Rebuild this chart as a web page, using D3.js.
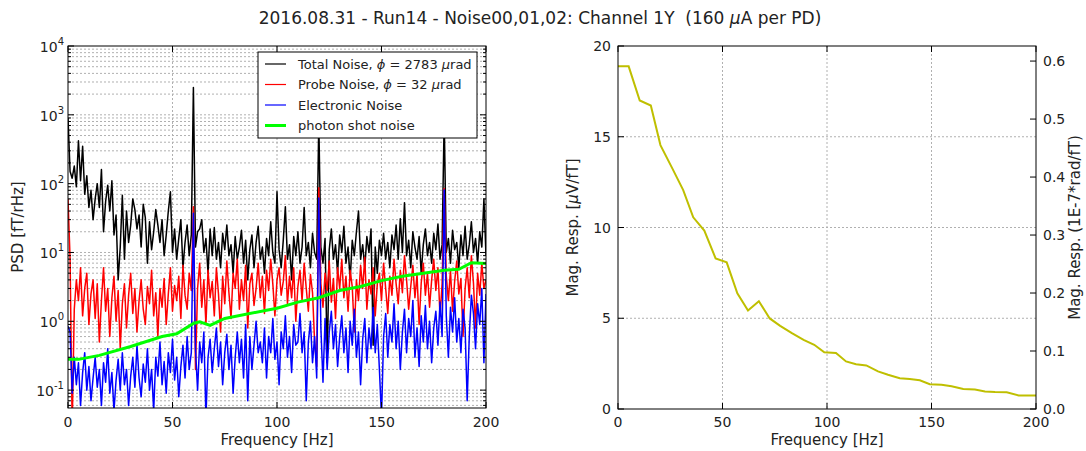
<!DOCTYPE html>
<meta charset='utf-8'>
<title>Noise PSD and magnitude response</title>
<style>
html, body {
  margin: 0;
  padding: 0;
  background: #fff;
}
text {
  font-family: 'DejaVu Sans', sans-serif;
  fill: #222;
  white-space: pre;
}
.it { font-style: italic; }
</style>
<script src='https://d3js.org/d3.v7.min.js'></script>
<body>
<svg id='chart' width='1086' height='451'></svg>
<script>
// Noise spectra, 1 Hz bins (fT/rHz)
var noiseFreq = d3.range(0, 201);
var totalNoise = [
  900, 150, 120, 180, 90, 420, 110, 350, 70, 130,
  45, 80, 30, 60, 100, 45, 160, 20, 55, 95,
  40, 110, 18, 35, 4, 12, 68, 8, 40, 14,
  25, 60, 42, 22, 35, 12, 50, 32, 7, 28,
  11, 20, 42, 25, 14, 30, 9, 18, 40, 76,
  10, 22, 8, 16, 30, 6, 14, 25, 9, 18,
  2500, 12, 20, 22, 30, 10, 16, 5, 22, 9,
  23, 8, 14, 6, 19, 11, 25, 9, 13, 5,
  17, 8, 12, 21, 7, 15, 4, 11, 18, 6,
  14, 24, 8, 12, 5, 16, 9, 28, 10, 7,
  76, 11, 6, 15, 46, 8, 13, 4, 17, 9,
  20, 7, 12, 45, 9, 14, 6, 19, 10, 8,
  800, 12, 7, 16, 0.25, 11, 22, 8, 13, 5,
  18, 10, 24, 7, 12, 4, 15, 9, 20, 40,
  8, 13, 6, 17, 10, 22, 0.45, 12, 5, 15,
  9, 19, 8, 14, 6, 18, 11, 25, 8, 31,
  10, 53, 9, 15, 6, 20, 12, 8, 17, 5,
  13, 22, 9, 14, 7, 19, 11, 26, 8, 13,
  900, 10, 16, 7, 21, 11, 14, 6, 18, 9,
  24, 8, 13, 28, 10, 16, 7, 20, 12, 60,
  9
];
var probeNoise = [
  60, 8, 0.03, 1.5, 4, 2, 6, 1.2, 3, 5,
  0.9, 2.5, 4, 1.1, 3.5, 0.5, 2, 6, 1.4, 3,
  0.6, 2.2, 4.5, 1, 2.8, 0.4, 1.8, 3.5, 0.8, 2.4,
  5, 1.3, 3, 0.7, 2, 4, 1.5, 0.9, 3.2, 1.8,
  5.5, 1.2, 2.6, 0.6, 3, 1.6, 4.2, 0.9, 2.5, 6,
  1.4, 3.3, 2, 4.5, 1.1, 6.5, 2.4, 1.5, 5, 2.8,
  46, 0.2, 3, 7, 1.6, 4, 0.9, 5.5, 2.2, 3.8,
  1.2, 6, 2.5, 0.7, 4.5, 1.8, 7.5, 2.6, 1.1, 5,
  3, 8, 1.5, 4, 2, 6.5, 0.8, 3.5, 5, 1.7,
  3, 7, 2.2, 4.5, 1.3, 5.5, 2.8, 8, 3.5, 1.2,
  4, 6, 2.4, 3.8, 9, 1.8, 4.5, 2.2, 6, 1,
  3.2, 5.5, 2, 7, 3, 1.4, 4.8, 2.6, 0.5, 0.22,
  87, 3.5, 1.6, 5, 2.8, 7.5, 1.9, 4.2, 1.1, 6,
  3, 8, 2.2, 4.5, 1.4, 5.5, 3.2, 0.7, 4, 2,
  6.5, 3, 8.5, 1.5, 4, 2.5, 6, 1.2, 3.5, 5,
  2, 7, 3, 1.3, 4.5, 2.4, 8, 3.5, 1.8, 5.5,
  2.6, 9, 4, 1.5, 3.2, 6.5, 2.2, 4.8, 0.9, 3.6,
  7, 2.4, 5, 1.6, 4, 8, 2.8, 6, 1.2, 3.5,
  85, 4.5, 2, 5.5, 1.4, 3.8, 7.5, 2.5, 4.2, 0.6,
  3, 6, 2.2, 9, 3.6, 0.8, 5, 2.4, 7, 3,
  4
];
var electronicNoise = [
  0.85, 0.7, 0.09, 0.3, 0.12, 0.25, 0.06, 0.18, 0.35, 0.1,
  0.22, 0.07, 0.15, 0.3, 0.11, 0.2, 0.06, 0.25, 0.13, 0.4,
  0.09, 0.18, 0.05, 0.14, 0.28, 0.1, 0.35, 0.12, 0.2, 0.06,
  0.16, 0.3, 0.11, 0.45, 0.15, 0.08, 0.24, 0.13, 0.4, 0.1,
  0.2, 0.05, 0.3, 0.16, 0.5, 0.12, 0.26, 0.09, 0.35, 0.18,
  0.55, 0.14, 0.3, 0.08, 0.22, 0.45, 0.15, 0.6, 0.2, 0.35,
  37, 0.4, 0.1, 0.5, 0.25, 0.7, 0.04, 0.3, 0.55, 0.18,
  0.4, 0.8, 0.22, 0.5, 0.12, 0.35, 0.65, 0.2, 0.45, 0.09,
  0.3, 0.7, 0.25, 0.55, 0.15, 0.9, 0.07, 0.6, 0.2, 0.45,
  1, 0.35, 0.5, 0.25, 0.8, 0.15, 0.6, 0.35, 1.1, 0.28,
  0.5, 0.12, 0.7, 0.4, 1.2, 0.3, 0.6, 0.18, 0.9, 0.45,
  0.5, 1.3, 0.35, 0.7, 0.07, 0.5, 1, 0.25, 0.6, 0.15,
  62, 0.8, 0.13, 1.1, 0.2, 0.7, 1.4, 0.4, 0.9, 0.22,
  0.6, 1.2, 0.35, 0.8, 0.18, 1, 0.45, 1.5, 0.3, 0.7,
  0.12, 0.55, 1.1, 0.25, 0.8, 0.4, 1.6, 0.35, 0.9, 0.2,
  0.04, 0.6, 1.3, 0.3, 0.9, 0.5, 1.8, 0.4, 1, 0.2,
  0.7, 1.5, 0.35, 1.1, 0.6, 2, 0.3, 0.8, 0.22, 1.2,
  0.5, 1.7, 0.4, 1, 0.25, 0.8, 1.4, 0.45, 1.9, 0.6,
  81, 1.2, 0.3, 1.6, 0.7, 2.2, 0.5, 1.1, 0.35, 1.5,
  0.8, 0.07, 0.6, 2.4, 1.3, 0.4, 1.8, 0.9, 3, 0.25,
  2.5
];
// photon shot noise estimate
var shotFreq = [0, 5, 15, 30, 45, 52, 60, 63, 68, 75, 95, 100, 110, 120, 130, 140, 150, 160, 170, 180, 187, 193, 200];
var shotVals = [0.28, 0.28, 0.32, 0.43, 0.6, 0.66, 0.93, 0.98, 0.87, 1.1, 1.45, 1.55, 1.9, 2.2, 2.8, 3.2, 3.9, 4.5, 5.0, 5.5, 5.7, 7.1, 6.9];

// magnitude response (uV/fT)
var respFreq = [0, 5.1, 10.4, 15.7, 20.3, 25.8, 31.2, 36, 41.3, 46.7, 52, 57.1, 62.2, 67.4, 72.6, 77.6, 83.2, 88.8, 93.9, 98.7,
  104.3, 109.1, 113.9, 118.8, 124.4, 129.2, 134.8, 139.6, 144.4, 149.2, 154.8, 159.6, 165.2, 170.8, 175.6, 180.4, 186, 191.7, 200];
var respVals = [18.88, 18.88, 17.0, 16.72, 14.54, 13.3, 12.06, 10.56, 9.83, 8.3, 8.08, 6.38, 5.43, 5.94, 4.99, 4.58, 4.18, 3.81, 3.54, 3.12,
  3.08, 2.62, 2.47, 2.40, 2.07, 1.89, 1.70, 1.65, 1.58, 1.37, 1.34, 1.25, 1.10, 1.08, 0.97, 0.93, 0.92, 0.75, 0.75];

var freqTicks = [0, 50, 100, 150, 200];
var psdTicks = [0.1, 1, 10, 100, 1000, 10000];
var respTicks = [0, 5, 10, 15, 20];
var radTicks = [0.0, 0.1, 0.2, 0.3, 0.4, 0.5, 0.6];

// legend labels split in pieces so the math symbols can go italic
var legendItems = [
  {parts: [['Total Noise, ', 0], ['\u03d5', 1], [' = 2783 ', 0], ['\u03bc', 1], ['rad', 0]], color: '#000', width: 1.2},
  {parts: [['Probe Noise, ', 0], ['\u03d5', 1], [' = 32 ', 0], ['\u03bc', 1], ['rad', 0]], color: '#f00', width: 1.2},
  {parts: [['Electronic Noise', 0]], color: '#00f', width: 1.2},
  {parts: [['photon shot noise', 0]], color: '#0f0', width: 3}
];

var svg = d3.select('#chart');
var gridColor = '#b0b0b0';
var tickFont = 14;
var labelFont = 15;

// Title
var title = svg.append('text')
  .attr('x', 540)
  .attr('y', 24)
  .attr('text-anchor', 'middle')
  .attr('font-size', 17);
title.append('tspan').text('2016.08.31 - Run14 - Noise00,01,02: Channel 1Y  (160 ');
title.append('tspan').attr('class', 'it').text('\u03bc');
title.append('tspan').text('A per PD)');

// ---------- left panel ----------
var L = {x0: 68, x1: 486, y0: 46, y1: 408};
var xL = d3.scaleLinear().domain([0, 200]).range([L.x0, L.x1]);
var yL = d3.scaleLog().domain([0.055, 10000]).range([L.y1, L.y0]);

var left = svg.append('g');

svg.append('clipPath').attr('id', 'clipL')
  .append('rect')
  .attr('x', L.x0).attr('y', L.y0)
  .attr('width', L.x1 - L.x0).attr('height', L.y1 - L.y0);

// minor + major grid on the log axis
var minorVals = [];
[-2, -1, 0, 1, 2, 3].forEach(function (e) {
  for (var k = 1; k < 10; k++) {
    var v = k * Math.pow(10, e);
    if (v > 0.055 && v < 10000) minorVals.push(v);
  }
});
left.selectAll('.hgrid')
  .data(minorVals)
  .enter().append('line')
  .attr('x1', L.x0).attr('x2', L.x1)
  .attr('y1', function (d) { return yL(d); })
  .attr('y2', function (d) { return yL(d); })
  .attr('stroke', gridColor)
  .attr('stroke-width', 1)
  .attr('stroke-dasharray', '2,2');
left.selectAll('.vgrid')
  .data(freqTicks.slice(1, -1))
  .enter().append('line')
  .attr('x1', function (d) { return xL(d); })
  .attr('x2', function (d) { return xL(d); })
  .attr('y1', L.y0).attr('y2', L.y1)
  .attr('stroke', gridColor)
  .attr('stroke-dasharray', '2,2');

var lineL = d3.line()
  .x(function (d) { return xL(d[0]); })
  .y(function (d) { return yL(Math.max(d[1], 0.01)); });

var traces = left.append('g').attr('clip-path', 'url(#clipL)');
[[totalNoise, '#000'], [probeNoise, '#f00'], [electronicNoise, '#00f']].forEach(function (s) {
  traces.append('path')
    .datum(noiseFreq.map(function (f, i) { return [f, s[0][i]]; }))
    .attr('d', lineL)
    .attr('fill', 'none')
    .attr('stroke', s[1])
    .attr('stroke-width', 1.5)
    .attr('stroke-linejoin', 'round');
});
traces.append('path')
  .datum(shotFreq.map(function (f, i) { return [f, shotVals[i]]; }))
  .attr('d', lineL)
  .attr('fill', 'none')
  .attr('stroke', '#0f0')
  .attr('stroke-width', 3);

// frame
left.append('rect')
  .attr('x', L.x0).attr('y', L.y0)
  .attr('width', L.x1 - L.x0).attr('height', L.y1 - L.y0)
  .attr('fill', 'none').attr('stroke', '#000').attr('stroke-width', 1);

// ticks, pointing inward on all sides
function vTick(g, x, y, len) {
  g.append('line').attr('x1', x).attr('x2', x).attr('y1', y).attr('y2', y + len)
    .attr('stroke', '#000');
}
function hTick(g, x, y, len) {
  g.append('line').attr('x1', x).attr('x2', x + len).attr('y1', y).attr('y2', y)
    .attr('stroke', '#000');
}
freqTicks.forEach(function (f) {
  vTick(left, xL(f), L.y1, -6);
  vTick(left, xL(f), L.y0, 6);
  left.append('text')
    .attr('x', xL(f)).attr('y', L.y1 + 19)
    .attr('text-anchor', 'middle')
    .attr('font-size', tickFont)
    .text(f);
});
minorVals.forEach(function (v) {
  var major = psdTicks.indexOf(v) >= 0;
  hTick(left, L.x0, yL(v), major ? 6 : 3);
  hTick(left, L.x1, yL(v), major ? -6 : -3);
});
psdTicks.forEach(function (v) {
  var t = left.append('text')
    .attr('x', L.x0 - 4).attr('y', yL(v) + 6)
    .attr('text-anchor', 'end')
    .attr('font-size', tickFont);
  t.append('tspan').text('10');
  t.append('tspan').attr('font-size', 10).attr('dy', -7).text(Math.round(Math.log10(v)));
});
hTick(left, L.x0, yL(10000), 6);

left.append('text')
  .attr('transform', 'translate(23,' + (L.y0 + L.y1) / 2 + ')rotate(-90)')
  .attr('text-anchor', 'middle')
  .attr('font-size', labelFont)
  .text('PSD [fT/rHz]');
left.append('text')
  .attr('x', (L.x0 + L.x1) / 2).attr('y', 445)
  .attr('text-anchor', 'middle')
  .attr('font-size', labelFont)
  .text('Frequency [Hz]');

// legend
var leg = left.append('g').attr('transform', 'translate(258,52)');
leg.append('rect')
  .attr('width', 219).attr('height', 86)
  .attr('fill', '#fff').attr('stroke', '#000');
legendItems.forEach(function (d, i) {
  var y = 12 + i * 20.5;
  leg.append('line')
    .attr('x1', 7).attr('x2', 28).attr('y1', y).attr('y2', y)
    .attr('stroke', d.color).attr('stroke-width', d.width);
  var t = leg.append('text')
    .attr('x', 40).attr('y', y + 4.5)
    .attr('font-size', 13);
  d.parts.forEach(function (p) {
    t.append('tspan').attr('class', p[1] ? 'it' : null).text(p[0]);
  });
});

// ---------- right panel ----------
var R = {x0: 618, x1: 1036, y0: 46, y1: 409};
var xR = d3.scaleLinear().domain([0, 200]).range([R.x0, R.x1]);
var yR = d3.scaleLinear().domain([0, 20]).range([R.y1, R.y0]);
var yR2 = d3.scaleLinear().domain([0, 0.626]).range([R.y1, R.y0]);

var right = svg.append('g');

right.selectAll('.hgrid')
  .data(respTicks.slice(1, -1))
  .enter().append('line')
  .attr('x1', R.x0).attr('x2', R.x1)
  .attr('y1', function (d) { return yR(d); })
  .attr('y2', function (d) { return yR(d); })
  .attr('stroke', gridColor)
  .attr('stroke-dasharray', '2,2');
right.selectAll('.vgrid')
  .data(freqTicks.slice(1, -1))
  .enter().append('line')
  .attr('x1', function (d) { return xR(d); })
  .attr('x2', function (d) { return xR(d); })
  .attr('y1', R.y0).attr('y2', R.y1)
  .attr('stroke', gridColor)
  .attr('stroke-dasharray', '2,2');

right.append('path')
  .datum(respFreq.map(function (f, i) { return [f, respVals[i]]; }))
  .attr('d', d3.line()
    .x(function (d) { return xR(d[0]); })
    .y(function (d) { return yR(d[1]); }))
  .attr('fill', 'none')
  .attr('stroke', '#bfbf00')
  .attr('stroke-width', 2);

right.append('rect')
  .attr('x', R.x0).attr('y', R.y0)
  .attr('width', R.x1 - R.x0).attr('height', R.y1 - R.y0)
  .attr('fill', 'none').attr('stroke', '#000');

freqTicks.forEach(function (f) {
  vTick(right, xR(f), R.y1, -6);
  vTick(right, xR(f), R.y0, 6);
  right.append('text')
    .attr('x', xR(f)).attr('y', R.y1 + 18)
    .attr('text-anchor', 'middle')
    .attr('font-size', tickFont)
    .text(f);
});
respTicks.forEach(function (v) {
  hTick(right, R.x0, yR(v), 6);
  right.append('text')
    .attr('x', R.x0 - 7).attr('y', yR(v) + 5)
    .attr('text-anchor', 'end')
    .attr('font-size', tickFont)
    .text(v);
});
radTicks.forEach(function (v) {
  hTick(right, R.x1, yR2(v), -6);
  right.append('text')
    .attr('x', R.x1 + 7).attr('y', yR2(v) + 5)
    .attr('font-size', tickFont)
    .text(v.toFixed(1));
});

var magLabel = right.append('text')
  .attr('transform', 'translate(578,' + (R.y0 + R.y1) / 2 + ')rotate(-90)')
  .attr('text-anchor', 'middle')
  .attr('font-size', labelFont);
magLabel.append('tspan').text('Mag. Resp. [');
magLabel.append('tspan').attr('class', 'it').text('\u03bc');
magLabel.append('tspan').text('V/fT]');
right.append('text')
  .attr('transform', 'translate(1080,' + (R.y0 + R.y1) / 2 + ')rotate(-90)')
  .attr('text-anchor', 'middle')
  .attr('font-size', labelFont)
  .text('Mag. Resp. (1E-7*rad/fT)');
right.append('text')
  .attr('x', (R.x0 + R.x1) / 2).attr('y', 445)
  .attr('text-anchor', 'middle')
  .attr('font-size', labelFont)
  .text('Frequency [Hz]');
</script>
</body>
